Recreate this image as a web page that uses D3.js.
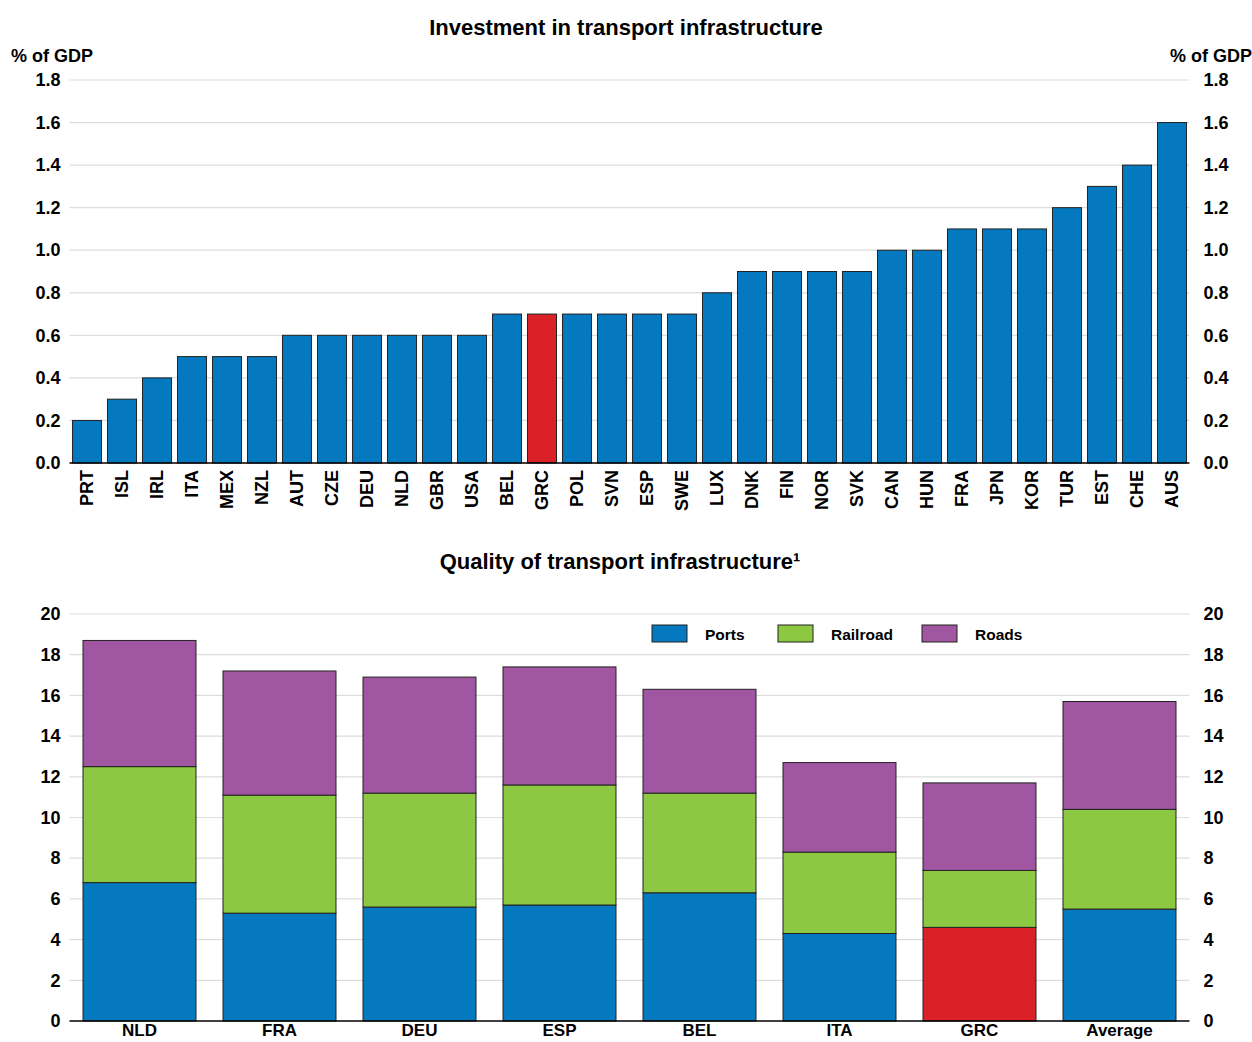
<!DOCTYPE html>
<html><head><meta charset="utf-8">
<script src="https://cdn.jsdelivr.net/npm/d3@7/dist/d3.min.js"></script>
<style>
html,body{margin:0;padding:0;background:#fff;}
svg text{font-family:"Liberation Sans",Arial,sans-serif;fill:#000;font-weight:bold;}
</style></head>
<body><svg id="c" width="1252" height="1042"></svg>
<script>
// ---- Data ----
const investCountries = ["PRT","ISL","IRL","ITA","MEX","NZL","AUT","CZE","DEU","NLD","GBR","USA","BEL","GRC","POL","SVN","ESP","SWE","LUX","DNK","FIN","NOR","SVK","CAN","HUN","FRA","JPN","KOR","TUR","EST","CHE","AUS"];
const investValues = [0.2,0.3,0.4,0.5,0.5,0.5,0.6,0.6,0.6,0.6,0.6,0.6,0.7,0.7,0.7,0.7,0.7,0.7,0.8,0.9,0.9,0.9,0.9,1.0,1.0,1.1,1.1,1.1,1.2,1.3,1.4,1.6];
const investTicks = [0,0.2,0.4,0.6,0.8,1.0,1.2,1.4,1.6,1.8];

const qualityCountries = ["NLD","FRA","DEU","ESP","BEL","ITA","GRC","Average"];
const seriesNames = ["Ports","Railroad","Roads"];
const ports    = [6.8,5.3,5.6,5.7,6.3,4.3,4.6,5.5];
const railroad = [5.7,5.8,5.6,5.9,4.9,4.0,2.8,4.9];
const roads    = [6.2,6.1,5.7,5.8,5.1,4.4,4.3,5.3];
const qualityTicks = [0,2,4,6,8,10,12,14,16,18,20];

const highlight = "GRC";
const colors = {Ports:"#0479bf", Railroad:"#8cc841", Roads:"#a056a0", hi:"#da2128"};

const svg = d3.select("#c");
const L = 69.5, R = 1189.5;

// ---------- Top chart ----------
const y1 = d3.scaleLinear().domain([0,1.8]).range([463,80]);
const x1 = d3.scaleBand().domain(investCountries).range([L,R]).paddingInner(0.17).paddingOuter(0.085);
const g1 = svg.append("g");
g1.append("text").attr("x",626).attr("y",35).attr("text-anchor","middle")
  .style("font-size","22px").text("Investment in transport infrastructure");
g1.selectAll("line.grid").data(investTicks.slice(1)).enter().append("line")
  .attr("x1",L).attr("x2",R).attr("y1",d=>y1(d)).attr("y2",d=>y1(d))
  .attr("stroke","#dddddd").attr("stroke-width",1.2);
g1.selectAll("rect.bar").data(investValues).enter().append("rect")
  .attr("x",(d,i)=>x1(investCountries[i])).attr("width",x1.bandwidth())
  .attr("y",d=>y1(d)).attr("height",d=>y1(0)-y1(d))
  .attr("fill",(d,i)=>investCountries[i]===highlight?colors.hi:colors.Ports)
  .attr("stroke","#222").attr("stroke-width",1);
g1.append("line").attr("x1",L).attr("x2",R).attr("y1",y1(0)).attr("y2",y1(0)).attr("stroke","#000").attr("stroke-width",1.5);
const axL1 = d3.axisLeft(y1).tickValues(investTicks).tickFormat(d3.format(".1f")).tickSize(0).tickPadding(9);
const axR1 = d3.axisRight(y1).tickValues(investTicks).tickFormat(d3.format(".1f")).tickSize(0).tickPadding(14);
g1.append("g").attr("transform",`translate(${L},0)`).call(axL1);
g1.append("g").attr("transform",`translate(${R},0)`).call(axR1);
const axB1 = d3.axisBottom(x1).tickSize(0).tickPadding(0);
const gb1 = g1.append("g").attr("transform",`translate(0,${y1(0)})`).call(axB1);
gb1.selectAll("text").attr("transform","rotate(-90)").attr("text-anchor","end")
  .attr("x",-7).attr("y",0).attr("dy","0.36em");
g1.append("text").attr("x",11).attr("y",62).style("font-size","18px").text("% of GDP");
g1.append("text").attr("x",1170).attr("y",62).style("font-size","18px").text("% of GDP");

// ---------- Bottom chart ----------
const y2 = d3.scaleLinear().domain([0,20]).range([1021,614]);
const x2 = d3.scaleBand().domain(qualityCountries).range([L,R]).paddingInner(0.193).paddingOuter(0.0965);
const g2 = svg.append("g");
g2.append("text").attr("x",620).attr("y",569).attr("text-anchor","middle")
  .style("font-size","22px").text("Quality of transport infrastructure¹");
g2.selectAll("line.grid").data(qualityTicks.slice(1)).enter().append("line")
  .attr("x1",L).attr("x2",R).attr("y1",d=>y2(d)).attr("y2",d=>y2(d))
  .attr("stroke","#dddddd").attr("stroke-width",1.2);
const table = qualityCountries.map((c,i)=>({c, Ports:ports[i], Railroad:railroad[i], Roads:roads[i]}));
const stacked = d3.stack().keys(seriesNames)(table);
stacked.forEach(s=>{
  g2.selectAll(null).data(s).enter().append("rect")
    .attr("x",d=>x2(d.data.c)).attr("width",x2.bandwidth())
    .attr("y",d=>y2(d[1])).attr("height",d=>y2(d[0])-y2(d[1]))
    .attr("fill",d=>(s.key==="Ports" && d.data.c===highlight)?colors.hi:colors[s.key])
    .attr("stroke","#222").attr("stroke-width",1);
});
g2.append("line").attr("x1",L).attr("x2",R).attr("y1",y2(0)).attr("y2",y2(0)).attr("stroke","#000").attr("stroke-width",1.5);
const axL2 = d3.axisLeft(y2).tickValues(qualityTicks).tickSize(0).tickPadding(9);
const axR2 = d3.axisRight(y2).tickValues(qualityTicks).tickSize(0).tickPadding(14);
g2.append("g").attr("transform",`translate(${L},0)`).call(axL2);
g2.append("g").attr("transform",`translate(${R},0)`).call(axR2);
const axB2 = d3.axisBottom(x2).tickSize(0).tickPadding(3);
const gb2 = g2.append("g").attr("transform",`translate(0,${y2(0)})`).call(axB2);

// legend
const legX = [652,778,922];
const lg = g2.append("g");
seriesNames.forEach((n,i)=>{
  lg.append("rect").attr("x",legX[i]).attr("y",625).attr("width",35).attr("height",17)
    .attr("fill",colors[n]).attr("stroke","#222").attr("stroke-width",1);
  lg.append("text").attr("x",legX[i]+53).attr("y",640).style("font-size","15.5px").text(n);
});

// axis styling
svg.selectAll(".domain").remove();
svg.selectAll(".tick text").style("font-size","18px").attr("fill","#000");
gb2.selectAll(".tick text").style("font-size","17px");
</script></body></html>
